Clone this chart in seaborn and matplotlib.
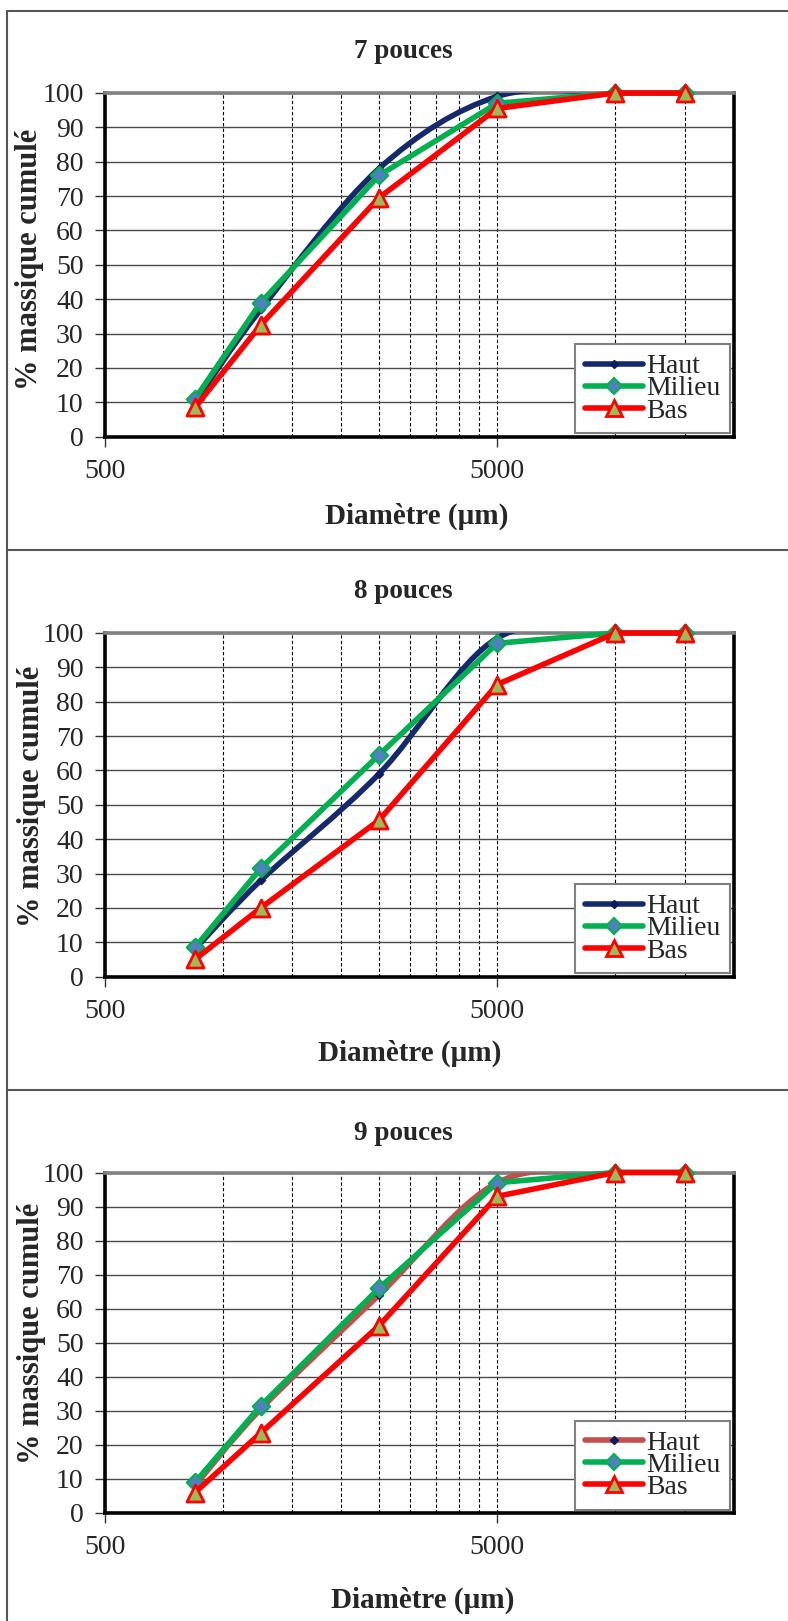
"""Courbes granulometriques cumulees (7, 8 et 9 pouces) - Haut / Milieu / Bas."""

import numpy as np
import matplotlib.pyplot as plt
import seaborn as sns
from matplotlib.lines import Line2D
from matplotlib.path import Path
from matplotlib.patches import PathPatch
from matplotlib.ticker import FixedLocator, FixedFormatter, NullFormatter

# Donnees
diametre = [850, 1250, 2500, 5000, 10000, 15000]
titres = ["7 pouces", "8 pouces", "9 pouces"]
series = ["Haut", "Milieu", "Bas"]

haut_7 = [10, 37, 78, 99, 100, 100]
milieu_7 = [11, 39, 76, 97, 100, 100]
bas_7 = [8.5, 32.5, 69.5, 95.5, 100, 100]

haut_8 = [8, 28, 59, 98.5, 100, 100]
milieu_8 = [8.5, 31.5, 64.5, 97, 100, 100]
bas_8 = [5, 20, 45.5, 85, 100, 100]

haut_9 = [8, 30.5, 64, 97, 100, 100]
milieu_9 = [9, 31.5, 66, 97, 100, 100]
bas_9 = [6, 23.5, 55, 93, 100, 100]

x_ticks = [500, 5000]
x_minor = [1000, 1500, 2000, 2500, 3000, 3500, 4000, 4500, 10000, 15000]
y_ticks = list(range(0, 101, 10))

donnees = [(haut_7, milieu_7, bas_7), (haut_8, milieu_8, bas_8), (haut_9, milieu_9, bas_9)]
couleur_haut = ["#15296b", "#15296b", "#c0504d"]

# mise en page (pixels de la figure)
W, H = 788, 1621
haut_axes = [93, 633, 1172.5]
bas_axes = [436.6, 976.6, 1513]
pos_titre = [(403, 52), (403, 592), (403, 1133)]
pos_xlabel = [(417, 516), (410, 1053), (423, 1600)]
pos_ylabel = [(30, 259), (32, 796), (32, 1333)]
separations = [11, 550, 1090]

sns.set_theme(style="ticks")
plt.rcParams["font.family"] = "serif"
plt.rcParams["font.serif"] = ["Liberation Serif", "DejaVu Serif"]


def courbe_lissee(x, y):
    """Courbe de Bezier type Excel (ligne lissee) dans l'espace log10(x), y."""
    lx = np.log10(np.asarray(x, float))
    ly = np.asarray(y, float)
    n = len(lx)
    verts = [(lx[0], ly[0])]
    codes = [Path.MOVETO]
    for i in range(n - 1):
        i0, i3 = max(i - 1, 0), min(i + 2, n - 1)
        c1 = (lx[i] + (lx[i + 1] - lx[i0]) / 6, ly[i] + (ly[i + 1] - ly[i0]) / 6)
        c2 = (lx[i + 1] - (lx[i3] - lx[i]) / 6, ly[i + 1] - (ly[i3] - ly[i]) / 6)
        verts += [c1, c2, (lx[i + 1], ly[i + 1])]
        codes += [Path.CURVE4] * 3
    verts = [(10 ** vx, vy) for vx, vy in verts]
    return Path(verts, codes)


fig = plt.figure(figsize=(W / 100, H / 100), dpi=100)

for k, titre in enumerate(titres):
    haut, milieu, bas = donnees[k]
    top, bottom = haut_axes[k], bas_axes[k]
    ax = fig.add_axes([104.5 / W, 1 - bottom / H, 629.1 / W, (bottom - top) / H])
    ax.set_xscale("log")

    # Haut : ligne lissee
    patch = PathPatch(courbe_lissee(diametre, haut), fill=False, lw=4,
                      edgecolor=couleur_haut[k], capstyle="round", zorder=3)
    ax.add_patch(patch)
    sns.scatterplot(x=diametre, y=haut, ax=ax, marker="D", s=22, color="#0d1a5c",
                    edgecolor="#0d1a5c", zorder=4, clip_on=False, legend=False)

    # Milieu
    sns.lineplot(x=diametre, y=milieu, ax=ax, color="#00b050", lw=4, sort=False,
                 estimator=None, zorder=5, clip_on=False, legend=False)
    sns.scatterplot(x=diametre, y=milieu, ax=ax, marker="D", s=80, color="#4f81bd",
                    edgecolor="#00b050", linewidth=1.5, zorder=6, clip_on=False, legend=False)

    # Bas
    sns.lineplot(x=diametre, y=bas, ax=ax, color="#ff0000", lw=4, sort=False,
                 estimator=None, zorder=7, clip_on=False, legend=False)
    sns.scatterplot(x=diametre, y=bas, ax=ax, marker="^", s=150, color="#9bbb59",
                    edgecolor="#ff0000", linewidth=2, zorder=8, clip_on=False, legend=False)

    ax.set_xlim(500, 20000)
    ax.set_ylim(0, 100)
    ax.xaxis.set_major_locator(FixedLocator(x_ticks))
    ax.xaxis.set_major_formatter(FixedFormatter([str(v) for v in x_ticks]))
    ax.xaxis.set_minor_locator(FixedLocator(x_minor))
    ax.xaxis.set_minor_formatter(NullFormatter())
    ax.yaxis.set_major_locator(FixedLocator(y_ticks))

    ax.grid(axis="y", which="major", color="#4a4a4a", lw=1.0, ls="-")
    ax.grid(axis="x", which="both", color="black", lw=0.8, ls=(0, (3, 2)))
    ax.set_axisbelow(True)
    for nom, sp in ax.spines.items():
        sp.set_visible(True)
        sp.set_color("black")
        sp.set_linewidth(2.6)
    ax.spines["top"].set_color("#808080")

    ax.tick_params(axis="y", which="major", direction="out", length=7, width=1,
                   labelsize=20, pad=8, left=True, color="#333333")
    ax.tick_params(axis="x", which="major", direction="out", length=7, width=1,
                   labelsize=20, pad=9, bottom=True, color="#333333")
    ax.tick_params(axis="x", which="minor", length=0)
    ax.set_xlabel("")
    ax.set_ylabel("")

    poignees = [
        Line2D([], [], color=couleur_haut[k], lw=4, marker="D", ms=4,
               markerfacecolor="#0d1a5c", markeredgecolor="#0d1a5c"),
        Line2D([], [], color="#00b050", lw=4, marker="D", ms=8,
               markerfacecolor="#4f81bd", markeredgecolor="#00b050", markeredgewidth=1.5),
        Line2D([], [], color="#ff0000", lw=4, marker="^", ms=11,
               markerfacecolor="#9bbb59", markeredgecolor="#ff0000", markeredgewidth=2),
    ]
    leg = ax.legend(poignees, series, loc="lower right", fontsize=20, frameon=True,
                    fancybox=False, framealpha=1, edgecolor="#808080",
                    borderaxespad=0.12, borderpad=0.35, labelspacing=-0.12,
                    handlelength=2.1, handletextpad=0.1)
    leg.get_frame().set_linewidth(1.5)
    leg.set_zorder(10)

    fig.text(pos_titre[k][0] / W, 1 - pos_titre[k][1] / H, titre, ha="center",
             va="center", fontsize=19.5, fontweight="bold")
    fig.text(pos_xlabel[k][0] / W, 1 - pos_xlabel[k][1] / H, "Diamètre (µm)",
             ha="center", va="center", fontsize=21, fontweight="bold")
    fig.text(pos_ylabel[k][0] / W, 1 - pos_ylabel[k][1] / H, "% massique cumulé",
             ha="center", va="center", rotation=90, fontsize=22, fontweight="bold")

# cadre des graphiques
for y in separations:
    fig.add_artist(Line2D([7 / W, 1], [1 - y / H, 1 - y / H], color="#555555", lw=1.5))
fig.add_artist(Line2D([7 / W, 7 / W], [0, 1 - 11 / H], color="#555555", lw=1.5))

fig.savefig("out.png", dpi=100)
plt.close(fig)
